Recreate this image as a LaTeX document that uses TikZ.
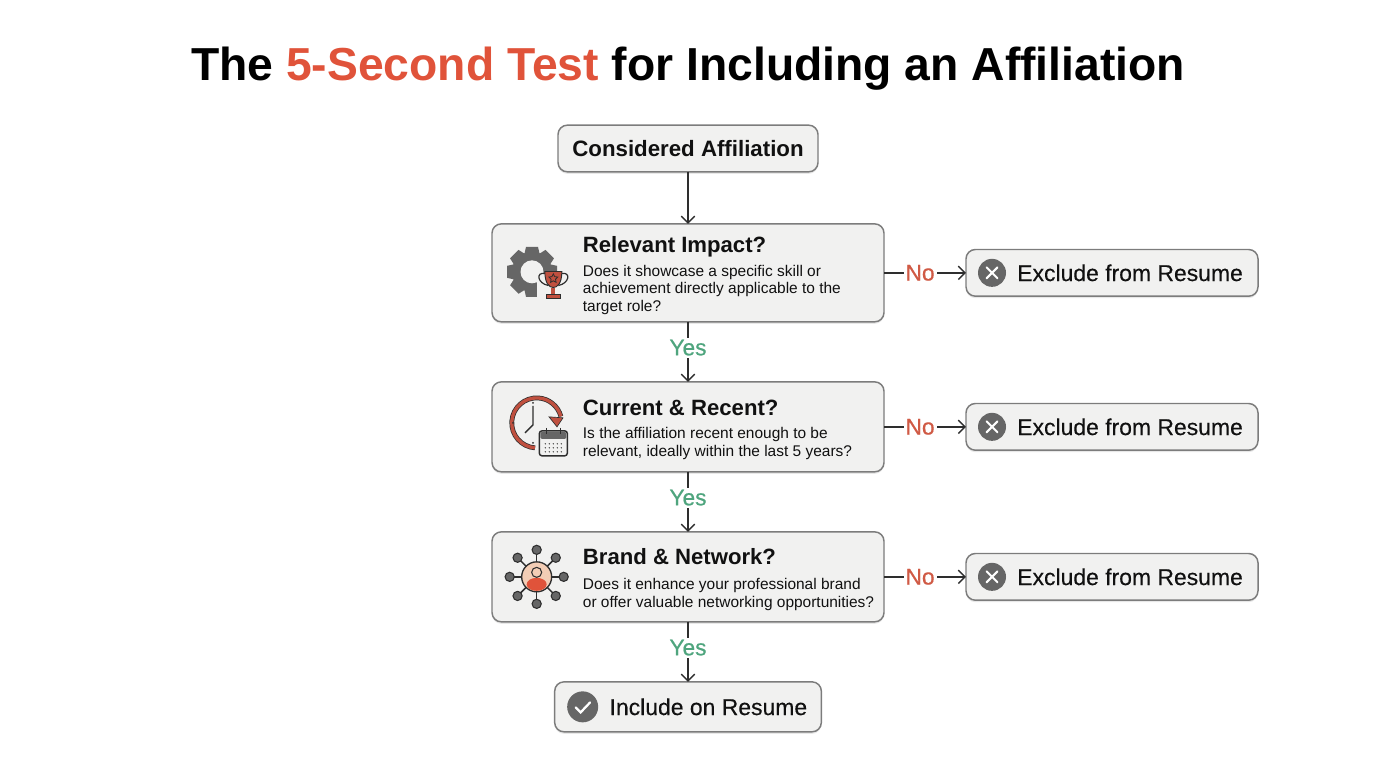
\documentclass[tikz,border=0pt]{standalone}
\usepackage{fontspec}
\setmainfont{Liberation Sans}
\newfontfamily\mediumfont[FakeBold=0.25]{Liberation Sans}
\newfontfamily\labelfont[FakeBold=0.6]{Liberation Sans}
\usepackage{xcolor}
\usetikzlibrary{arrows.meta, positioning, shadows}
\usetikzlibrary{shapes.geometric}
\definecolor{boxfill}{HTML}{F1F1F0}
\definecolor{boxline}{HTML}{7C7C7C}
\definecolor{inktext}{HTML}{111111}
\definecolor{iconrim}{HTML}{2E2E2E}
\definecolor{icongray}{HTML}{666666}
\definecolor{accent}{HTML}{E0533A}
\definecolor{redicon}{HTML}{C0503F}
\definecolor{nocolor}{HTML}{D05A45}
\definecolor{yescolor}{HTML}{4FA57E}
\definecolor{peach}{HTML}{F3CDB5}
\tikzset{
    gearicon/.pic={
        \foreach \a in {0,45,...,315}
            \fill[icongray, rotate=\a] (-6,-25) -- (6,-25) -- (8,-16) -- (-8,-16) -- cycle;
        \fill[icongray] (0,0) circle (20);
        \fill[boxfill] (0,0) circle (11.5);
        \fill[boxfill] (5,1) rectangle (30,30);
    },
    trophyicon/.pic={
        \draw[iconrim, line width=.9pt] (-8,-6) .. controls (-18,-8) and (-16,4) .. (-5,6);
        \draw[iconrim, line width=.9pt] (8,-6) .. controls (18,-8) and (16,4) .. (5,6);
        \draw[iconrim, fill=redicon, line width=.7pt] (-8.5,-8) -- (8.5,-8) .. controls (8.5,4) and (4,8) .. (0,8) .. controls (-4,8) and (-8.5,4) .. (-8.5,-8) -- cycle;
        \fill[redicon] (-2,8) rectangle (2,15);
        \draw[iconrim, fill=redicon, line width=.7pt] (-7,15) rectangle (7,19);
        \node[star, star points=5, star point ratio=2, draw=iconrim, line width=.6pt, inner sep=0pt, minimum size=7pt] (trophystar) at (0,-1) {};
    },
    clockicon/.pic={
        \draw[iconrim, line width=3.6pt] (2,25) arc[start angle=94, end angle=345, radius=25];
        \draw[redicon, line width=2.5pt] (2,25) arc[start angle=94, end angle=345, radius=25];
        \fill[redicon, draw=iconrim, line width=.5pt] (16,-6) -- (30,-5) -- (24,4) -- cycle;
        \draw[iconrim, line width=1pt] (0,-17) -- (0,2) -- (-8,10);
        \foreach \a in {90,180,270}
            \fill[iconrim] (\a:20) circle (1);
    },
    calendaricon/.pic={
        \draw[iconrim, fill=boxfill, line width=1.1pt, rounded corners=2pt] (-14,-12) rectangle (14,13);
        \fill[icongray, rounded corners=1pt] (-13,-11) rectangle (13,-4);
        \draw[iconrim, line width=1.2pt] (-7,-15) -- (-7,-9) (7,-15) -- (7,-9);
        \foreach \x in {-8,-4,...,8}
            \foreach \y in {1,5,9}
                \fill[iconrim] (\x,\y) circle (.7);
    },
    networkicon/.pic={
        \foreach \a in {0,45,...,315} {
            \draw[iconrim, line width=1.1pt] (\a:14) -- (\a:26);
            \fill[icongray, draw=iconrim, line width=.8pt] (\a:27) circle (4.6);
        }
        \draw[iconrim, fill=peach, line width=1pt] (0,0) circle (15);
        \fill[accent] (0,7.5) ellipse (10 and 6.5);
        \draw[iconrim, fill=peach, line width=.8pt] (0,-4.5) circle (5);
    },
    crossicon/.pic={
        \fill[icongray] (0,0) circle (14);
        \draw[white, line width=1.5pt, line cap=round] (-5.5,-5.5) -- (5.5,5.5) (-5.5,5.5) -- (5.5,-5.5);
    },
    checkicon/.pic={
        \fill[icongray] (0,0) circle (15.5);
        \draw[white, line width=1.7pt, line cap=round] (-7,0.5) -- (-2,5.5) -- (7.5,-4.5);
    }
}
\begin{document}
\begin{tikzpicture}
    [
    x=0.75pt, y=-0.75pt,
    flowbox/.style={ rectangle, draw=boxline, line width=1.1pt, outer sep=0pt, rounded corners=7pt, fill=boxfill, drop shadow={shadow xshift=0pt, shadow yshift=-1.5pt, opacity=.18} },
    questionbox/.style={ flowbox, minimum width=294pt, minimum height=67.5pt },
    endbox/.style={ flowbox, minimum width=219pt, minimum height=35pt },
    headtext/.style={ anchor=west, inner sep=0pt, text=inktext, font=\fontsize{16.6}{18}\selectfont\bfseries },
    bodytext/.style={ anchor=north west, inner sep=0pt, align=left, text=inktext, font=\fontsize{11.6}{13.1}\selectfont },
    endtext/.style={ anchor=west, inner sep=0pt, text=inktext, font=\fontsize{17.2}{18}\selectfont\mediumfont },
    yeslabel/.style={ fill=white, inner sep=1.5pt, text=yescolor, font=\fontsize{17}{18}\selectfont\labelfont },
    nolabel/.style={ fill=white, inner sep=1.5pt, text=nocolor, font=\fontsize{17}{18}\selectfont\labelfont },
    arrow/.style={ ->, draw=iconrim, line width=1.1pt, >={Straight Barb[length=5pt, width=10pt]} }
    ]
    \useasboundingbox (0,0) rectangle (1376,768);

    \node (title) [text=black, font=\fontsize{34.7}{40}\selectfont\bfseries] at (688,69) {The {\color{accent}5-Second Test} for Including an Affiliation};

    \node (considered) [flowbox, minimum width=195pt, minimum height=35pt] at (688,148.5) {};
    \node (consideredtext) [endtext, anchor=center, font=\fontsize{16.7}{18}\selectfont\bfseries] at (considered) {Considered Affiliation};

    \node (relevant) [questionbox, minimum height=73.5pt, below=39pt of considered] {};
    \node (current) [questionbox, below=45pt of relevant] {};
    \node (brand) [questionbox, below=45pt of current] {};
    \node (include) [flowbox, minimum width=200pt, minimum height=37.5pt, below=45pt of brand] {};

    % question texts
    \node (relevanthead) [headtext] at ([xshift=68pt, yshift=19.5pt]relevant.west) {Relevant Impact?};
    \node (relevantbody) [bodytext] at ([xshift=68pt, yshift=6pt]relevant.west) {Does it showcase a specific skill or\\achievement directly applicable to the\\target role?};
    \node (currenthead) [headtext] at ([xshift=68pt, yshift=14.5pt]current.west) {Current \& Recent?};
    \node (currentbody) [bodytext] at ([xshift=68pt, yshift=-0.5pt]current.west) {Is the affiliation recent enough to be\\relevant, ideally within the last 5 years?};
    \node (brandhead) [headtext] at ([xshift=68pt, yshift=15pt]brand.west) {Brand \& Network?};
    \node (brandbody) [bodytext] at ([xshift=68pt, yshift=-1pt]brand.west) {Does it enhance your professional brand\\or offer valuable networking opportunities?};

    % icons
    \pic at ([xshift=30pt, yshift=0.75pt]relevant.west) {gearicon};
    \pic at ([xshift=46pt, yshift=-5pt]relevant.west) {trophyicon};
    \pic at ([xshift=30.75pt, yshift=3pt]current.west) {clockicon};
    \pic at ([xshift=46pt, yshift=-12pt]current.west) {calendaricon};
    \pic at ([xshift=33.5pt]brand.west) {networkicon};

    % exclude boxes
    \node (relevantno) [endbox, right=61.5pt of relevant] {};
    \node (currentno) [endbox, right=61.5pt of current] {};
    \node (brandno) [endbox, right=61.5pt of brand] {};
    \node (relevantnotext) [endtext] at ([xshift=38.25pt]relevantno.west) {Exclude from Resume};
    \node (currentnotext) [endtext] at ([xshift=38.25pt]currentno.west) {Exclude from Resume};
    \node (brandnotext) [endtext] at ([xshift=38.25pt]brandno.west) {Exclude from Resume};
    \pic at ([xshift=19.5pt]relevantno.west) {crossicon};
    \pic at ([xshift=19.5pt]currentno.west) {crossicon};
    \pic at ([xshift=19.5pt]brandno.west) {crossicon};

    \node (includetext) [endtext] at ([xshift=41pt]include.west) {Include on Resume};
    \pic at ([xshift=21pt]include.west) {checkicon};

    \draw[arrow] (considered) -- (relevant);
    \draw[arrow] (relevant) -- node[yeslabel, pos=.43] (yesone) {Yes} (current);
    \draw[arrow] (current) -- node[yeslabel, pos=.43] (yestwo) {Yes} (brand);
    \draw[arrow] (brand) -- node[yeslabel, pos=.43] (yesthree) {Yes} (include);
    \draw[arrow] (relevant) -- node[nolabel, pos=.44] (noone) {No} (relevantno);
    \draw[arrow] (current) -- node[nolabel, pos=.44] (notwo) {No} (currentno);
    \draw[arrow] (brand) -- node[nolabel, pos=.44] (nothree) {No} (brandno);
\end{tikzpicture}
\end{document}
